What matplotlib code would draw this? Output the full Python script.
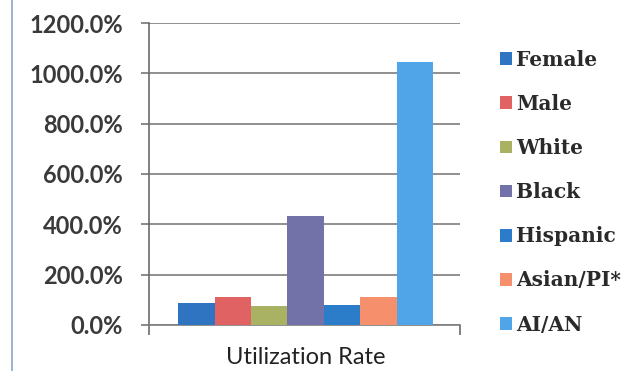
import matplotlib
matplotlib.use("Agg")
import matplotlib.pyplot as plt
from matplotlib.patches import Patch
from matplotlib.lines import Line2D
from matplotlib.ticker import FuncFormatter

groups = ["Female", "Male", "White", "Black", "Hispanic", "Asian/PI*", "AI/AN"]
rates = [89, 110, 75, 434, 81, 112, 1044]
colors = ["#2f74c0", "#e06262", "#a9b163", "#7372a8", "#2b7dca", "#f68f6c", "#50a4e8"]
category = "Utilization Rate"
yticks = [0, 200, 400, 600, 800, 1000, 1200]

fig = plt.figure(figsize=(6.41, 3.71), dpi=100)
ax = fig.add_axes([0.2325, 0.124, 0.485, 0.814])

pos = range(len(rates))
ax.bar(pos, rates, width=1.0, color=colors, zorder=3)

ax.set_ylim(0, 1200)
ax.set_xlim(-1.3, 7.24)
ax.set_yticks(yticks)
ax.yaxis.set_major_formatter(FuncFormatter(lambda v, p: f"{v:.1f}%"))
ax.grid(axis="y", color="#7d7d7d", linewidth=1.2, zorder=1)

for side in ("top", "right"):
    ax.spines[side].set_visible(False)
ax.spines["left"].set_color("#6b6b6b")
ax.spines["left"].set_linewidth(1.2)
ax.spines["bottom"].set_color("#7d7d7d")
ax.spines["bottom"].set_linewidth(1.2)

ax.tick_params(axis="y", length=6, width=1.1, color="#6b6b6b", pad=13,
               labelsize=17, labelcolor="#3a3a3a")
for lbl in ax.get_yticklabels():
    lbl.set_fontfamily("Lato")
    lbl.set_fontweight("bold")

# category label in the middle, boundary ticks at the ends
ax.set_xticks([3])
ax.set_xticklabels([category], fontfamily="Lato", fontsize=17, color="#222222")
ax.tick_params(axis="x", length=0, pad=16)
ax.set_xticks([-1.3, 7.24], minor=True)
ax.tick_params(axis="x", which="minor", length=7, width=1.2, color="#6b6b6b")

handles = [Patch(facecolor=c, edgecolor="none") for c in colors]
leg = fig.legend(handles, groups, loc="upper left", bbox_to_anchor=(0.752, 0.915),
                 frameon=False, handlelength=0.6, handleheight=0.6,
                 handletextpad=0.2, labelspacing=1.2,
                 prop={"family": "DejaVu Serif", "size": 14.5, "weight": "bold"})
for t in leg.get_texts():
    t.set_color("#2a2a2a")

# page border on the left
fig.add_artist(Line2D([0.018, 0.018], [0, 1], color="#8aa4c8", linewidth=1.2))

fig.savefig("out.png", dpi=100)
